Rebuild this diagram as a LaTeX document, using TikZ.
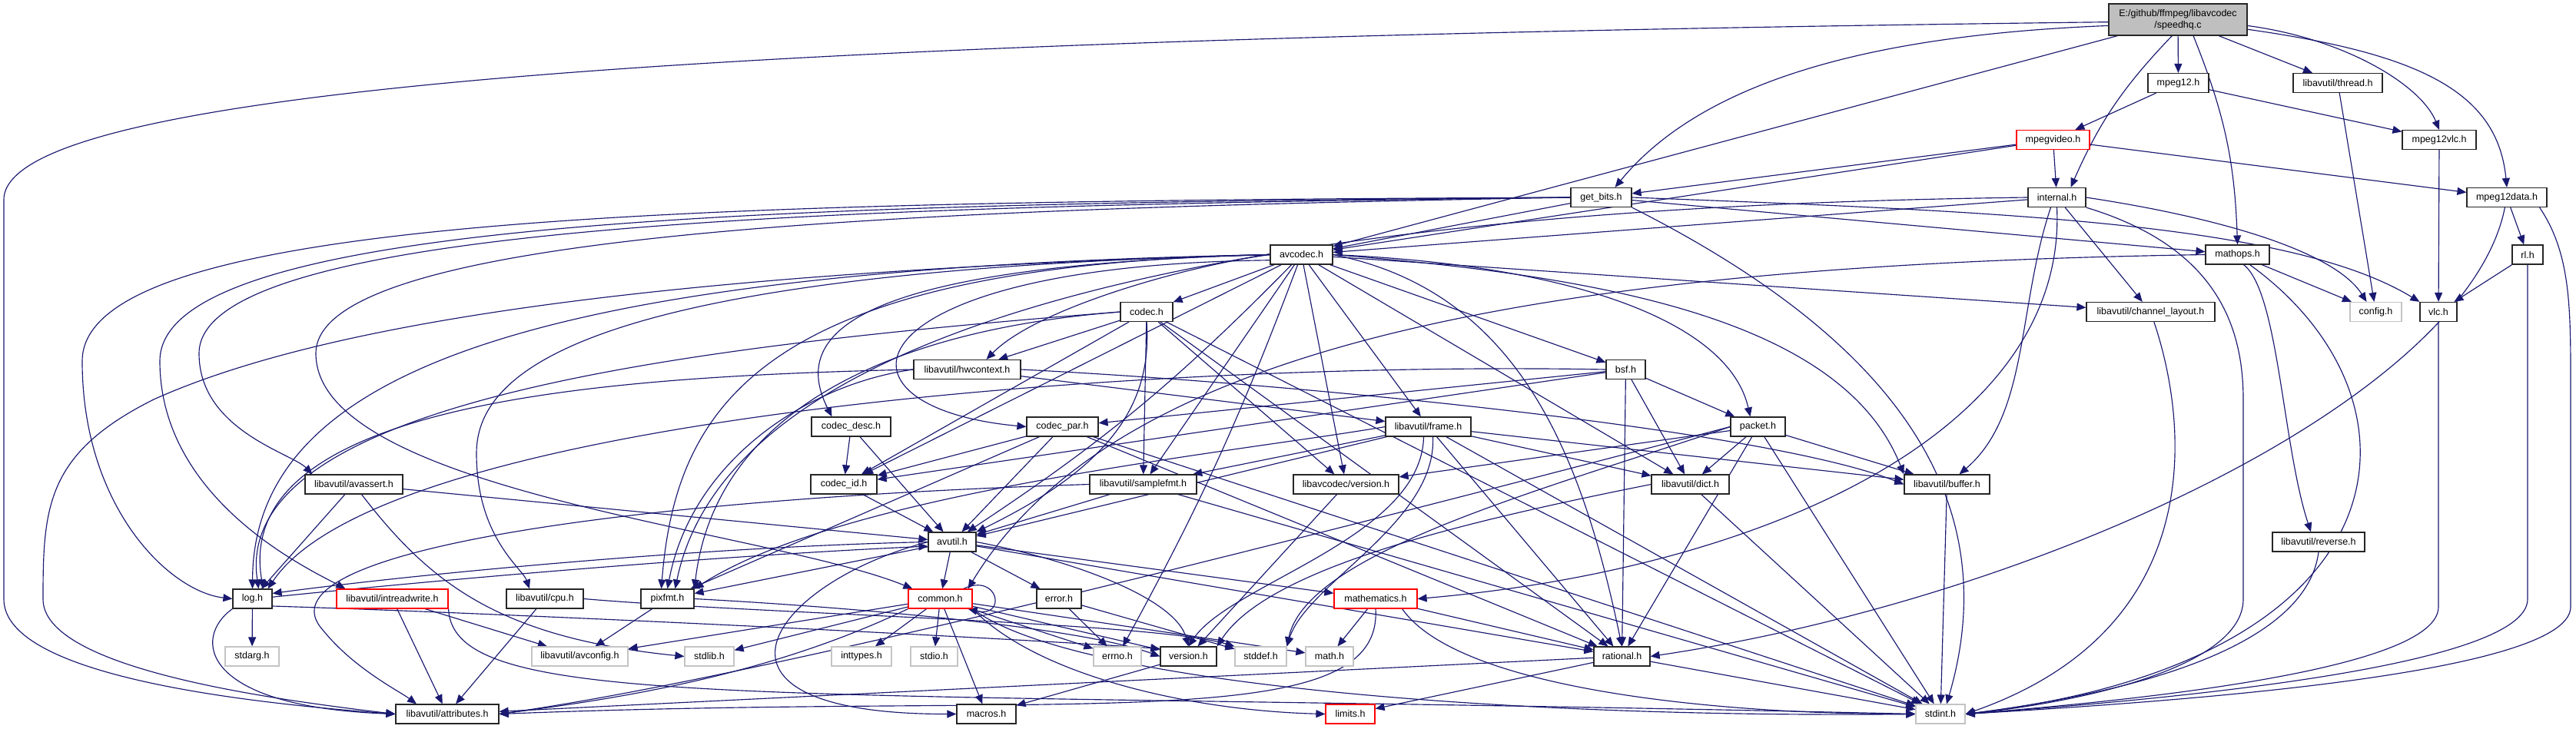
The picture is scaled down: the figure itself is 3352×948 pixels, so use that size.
\documentclass[tikz,border=0pt]{standalone}
\usepackage{fontspec}
\setmainfont{Liberation Sans}
\usetikzlibrary{arrows.meta,calc}
\definecolor{EdgeNavy}{RGB}{25,25,112}
\definecolor{RootGray}{RGB}{191,191,191}
\definecolor{SysGray}{RGB}{196,196,196}
\pgfdeclarelayer{back}
\pgfdeclarelayer{links}
\pgfsetlayers{back,links,main}
\tikzset{
  file/.style={draw=black!85,fill=white,line width=1.2pt,inner sep=0pt,
    minimum height=25pt,font=\fontsize{12.5}{15}\selectfont},
  trunc/.style={file,draw=red},
  sys/.style={file,draw=SysGray},
  rootfile/.style={file,fill=RootGray,minimum height=41pt,align=center},
  dep/.style={-{Triangle[length=12pt,width=10pt]},line width=1.15pt,EdgeNavy}
}

\begin{document}
\begin{tikzpicture}[x=1pt,y=-1pt]
\useasboundingbox (0,0) rectangle (3352,948);
\begin{pgfonlayer}{back}
\fill[white] (0,0) rectangle (3352,948);
\end{pgfonlayer}

% files
\node[rootfile,minimum width=180pt] (root) at (2834,25.5) {E:/github/ffmpeg/libavcodec\\/speedhq.c};
\node[file,minimum width=79pt] (mpeg12) at (2834.5,108) {mpeg12.h};
\node[file,minimum width=116pt] (thread) at (3042,108) {libavutil/thread.h};
\node[trunc,minimum width=95pt] (mpegvideo) at (2671.5,182) {mpegvideo.h};
\node[file,minimum width=96pt] (mpeg12vlc) at (3174,182) {mpeg12vlc.h};
\node[file,minimum width=79pt] (getbits) at (2083.5,257) {get\_bits.h};
\node[file,minimum width=75pt] (internal) at (2676.5,257) {internal.h};
\node[file,minimum width=104pt] (mpeg12data) at (3262,257) {mpeg12data.h};
\node[file,minimum width=81pt] (avcodec) at (1693.5,331.5) {avcodec.h};
\node[file,minimum width=83pt] (mathops) at (2911.5,331.5) {mathops.h};
\node[file,minimum width=40pt] (rl) at (3289,331.5) {rl.h};
\node[file,minimum width=68pt] (codec) at (1492,406) {codec.h};
\node[file,minimum width=167pt] (chlayout) at (2798.5,406) {libavutil/channel\_layout.h};
\node[sys,minimum width=67pt] (config) at (3091.5,406) {config.h};
\node[file,minimum width=48pt] (vlc) at (3173,406) {vlc.h};
\node[file,minimum width=139pt] (hwcontext) at (1258.5,481) {libavutil/hwcontext.h};
\node[file,minimum width=51pt] (bsf) at (2115.5,481) {bsf.h};
\node[file,minimum width=103pt] (codecdesc) at (1107.5,555.5) {codec\_desc.h};
\node[file,minimum width=93pt] (codecpar) at (1382.5,555.5) {codec\_par.h};
\node[file,minimum width=111pt] (frame) at (1858.5,555.5) {libavutil/frame.h};
\node[file,minimum width=71pt] (packet) at (2287.5,555.5) {packet.h};
\node[file,minimum width=127pt] (avassert) at (460.5,630.5) {libavutil/avassert.h};
\node[file,minimum width=86pt] (codecid) at (1098,630.5) {codec\_id.h};
\node[file,minimum width=139pt] (samplefmt) at (1487.5,630.5) {libavutil/samplefmt.h};
\node[file,minimum width=137pt] (lavcversion) at (1751.5,630.5) {libavcodec/version.h};
\node[file,minimum width=101pt] (dict) at (2199.5,630.5) {libavutil/dict.h};
\node[file,minimum width=111pt] (buffer) at (2533.5,630.5) {libavutil/buffer.h};
\node[file,minimum width=62pt] (avutil) at (1239,705.5) {avutil.h};
\node[file,minimum width=120pt] (reverse) at (3017,705.5) {libavutil/reverse.h};
\node[file,minimum width=51pt] (log) at (328.5,779.5) {log.h};
\node[trunc,minimum width=145pt] (intreadwrite) at (510.5,779.5) {libavutil/intreadwrite.h};
\node[file,minimum width=100pt] (cpu) at (709,779.5) {libavutil/cpu.h};
\node[file,minimum width=69pt] (pixfmt) at (868.5,779.5) {pixfmt.h};
\node[trunc,minimum width=83pt] (common) at (1223.5,779.5) {common.h};
\node[file,minimum width=58pt] (error) at (1378,779.5) {error.h};
\node[trunc,minimum width=108pt] (mathematics) at (1790,779.5) {mathematics.h};
\node[sys,minimum width=70pt] (stdarg) at (328,854.5) {stdarg.h};
\node[sys,minimum width=125pt] (avconfig) at (754.5,854.5) {libavutil/avconfig.h};
\node[sys,minimum width=64pt] (stdlib) at (923,854.5) {stdlib.h};
\node[sys,minimum width=78pt] (inttypes) at (1121,854.5) {inttypes.h};
\node[sys,minimum width=61pt] (stdio) at (1215.5,854.5) {stdio.h};
\node[sys,minimum width=62pt] (errno) at (1454,854.5) {errno.h};
\node[file,minimum width=73pt] (version) at (1546.5,854.5) {version.h};
\node[sys,minimum width=67pt] (stddef) at (1640.5,854.5) {stddef.h};
\node[sys,minimum width=62pt] (math) at (1730,854.5) {math.h};
\node[file,minimum width=73pt] (rational) at (2110.5,854.5) {rational.h};
\node[file,minimum width=134pt] (attributes) at (582,929.5) {libavutil/attributes.h};
\node[file,minimum width=77pt] (macros) at (1283.5,929.5) {macros.h};
\node[trunc,minimum width=64pt] (limits) at (1757,929.5) {limits.h};
\node[sys,minimum width=64pt] (stdint) at (2525,929.5) {stdint.h};

% includes
\begin{pgfonlayer}{links}
\foreach \src/\dst in {root/avcodec,root/mpeg12,root/thread,
  mpeg12/mpegvideo,mpeg12/mpeg12vlc,
  mpegvideo/getbits,mpegvideo/avcodec,mpegvideo/internal,mpegvideo/mpeg12data,
  thread/config,mpeg12vlc/vlc,mpeg12data/rl,
  getbits/avcodec,getbits/mathops,internal/avcodec,internal/chlayout,
  mathops/config,rl/vlc,
  avcodec/codec,avcodec/bsf,avcodec/codecid,avcodec/samplefmt,avcodec/lavcversion,
  avcodec/frame,avcodec/dict,avcodec/chlayout,
  codec/hwcontext,codec/codecid,codec/lavcversion,codec/samplefmt,codec/rational,codec/stdint,
  hwcontext/frame,
  bsf/dict,bsf/rational,bsf/codecid,bsf/codecpar,bsf/packet,
  codecdesc/avutil,codecdesc/codecid,
  codecpar/avutil,codecpar/rational,codecpar/pixfmt,codecpar/codecid,codecpar/stdint,
  codecid/avutil,
  frame/stdint,frame/avutil,frame/buffer,frame/dict,frame/rational,frame/samplefmt,
  packet/stdint,packet/buffer,packet/dict,packet/rational,packet/lavcversion,
  samplefmt/stdint,samplefmt/avutil,
  lavcversion/version,dict/stdint,buffer/stdint,
  avutil/common,avutil/error,avutil/rational,avutil/mathematics,avutil/pixfmt,
  log/stdarg,avassert/avutil,avassert/log,
  intreadwrite/avconfig,intreadwrite/attributes,cpu/attributes,pixfmt/avconfig,
  common/errno,common/inttypes,common/stdio,common/stdlib,common/macros,
  common/version,common/avconfig,common/math,
  error/errno,error/stddef,mathematics/math,mathematics/rational,
  rational/stdint,rational/limits,rational/attributes,version/macros}
  \draw[dep] (\src) -- (\dst);

% speedhq.c
\draw[dep] (root.182) .. controls (1000,50) and (5,110) .. (5,260) -- (5,780) .. controls (5,880) and (320,915) .. (attributes.west);
\draw[dep] (root.185) .. controls (2450,45) and (2220,100) .. ($(getbits.north)+(18,0)$);
\draw[dep] (root.250) to[bend right=10] ($(internal.north)+(18,0)$);
\draw[dep] ($(root.south)+(20,0)$) to[bend left=10] (mathops.north);
\draw[dep] (root.355) .. controls (3050,50) and (3150,110) .. (mpeg12vlc.north);
\draw[dep] (root.352) .. controls (3150,70) and (3250,120) .. (mpeg12data.north);

% right margin
\draw[dep] (mpeg12data) .. controls (3210,520) and (2650,780) .. (rational.east);
\draw[dep] ($(mpeg12data.south east)+(-10,0)$) .. controls (3345,330) and (3345,400) .. (3345,500) -- (3345,790) .. controls (3345,880) and (2800,915) .. (stdint.east);
\draw[dep] (rl.south) -- (3289,780) .. controls (3289,870) and (2800,912) .. (stdint.east);
\draw[dep] (vlc.south) -- (3173,790) .. controls (3173,870) and (2800,910) .. (stdint.east);
\draw[dep] (reverse.south) .. controls (3000,850) and (2750,905) .. (stdint.east);
\draw[dep] (chlayout) .. controls (2850,560) and (2870,820) .. (stdint.east);

% get_bits.h
\draw[dep] (getbits.west) .. controls (900,262) and (107,280) .. (107,470) .. controls (107,660) and (220,770) .. (log.west);
\draw[dep] (getbits.west) .. controls (1000,265) and (208,285) .. (208,470) .. controls (208,650) and (400,740) .. ($(intreadwrite.north west)+(12,0)$);
\draw[dep] (getbits.west) .. controls (1100,268) and (259,290) .. (259,460) .. controls (259,560) and (380,590) .. ($(avassert.north west)+(10,0)$);
\draw[dep] (getbits.west) .. controls (1200,272) and (411,300) .. (411,460) .. controls (411,640) and (1000,690) .. ($(common.north west)+(6,0)$);
\draw[dep] (getbits.south east) .. controls (2420,420) and (2620,620) .. ($(stdint.north)+(8,0)$);
\draw[dep] (getbits.east) .. controls (2600,275) and (2980,290) .. (vlc.north west);

% internal.h
\draw[dep] (internal.west) .. controls (1600,270) and (950,420) .. ($(pixfmt.north)+(10,0)$);
\draw[dep] (internal.east) .. controls (2900,285) and (3040,330) .. ($(config.north)+(-12,0)$);
\draw[dep] ($(internal.south)+(-8,0)$) .. controls (2625,400) and (2640,540) .. ($(buffer.north)+(16,0)$);
\draw[dep] (internal.south) .. controls (2690,560) and (2300,740) .. (mathematics.east);
\draw[dep] (internal.south east) .. controls (2880,320) and (2919,420) .. (2919,520) -- (2919,780) .. controls (2919,870) and (2700,915) .. (stdint.east);

% mathops.h
\draw[dep] ($(mathops.south)+(8,0)$) .. controls (2965,380) and (2970,580) .. ($(reverse.north)+(-10,0)$);
\draw[dep] ($(mathops.south)+(16,0)$) .. controls (3170,520) and (3140,860) .. (stdint.east);
\draw[dep] (mathops.west) .. controls (2000,345) and (1450,450) .. ($(common.north east)+(-6,0)$);

% avcodec.h
\draw[dep] (avcodec.west) .. controls (1150,345) and (1020,420) .. ($(codecdesc.north)+(-25,0)$);
\draw[dep] (avcodec.190) .. controls (1100,345) and (1060,530) .. (codecpar.west);
\draw[dep] (avcodec.west) .. controls (1000,345) and (880,520) .. ($(pixfmt.north)+(-8,0)$);
\draw[dep] (avcodec.west) .. controls (700,350) and (330,480) .. (log.north);
\draw[dep] (avcodec.west) .. controls (800,355) and (400,430) .. (200,520) .. controls (60,590) and (56,660) .. (56,780) .. controls (56,870) and (350,910) .. (attributes.west);
\draw[dep] (avcodec.west) .. controls (800,352) and (620,470) .. (620,590) .. controls (620,700) and (680,740) .. ($(cpu.north)+(-20,0)$);
\draw[dep] (avcodec.west) .. controls (1550,345) and (1350,400) .. ($(hwcontext.north)+(25,0)$);
\draw[dep] (avcodec.east) .. controls (2100,360) and (2400,420) .. (buffer.north west);
\draw[dep] (avcodec.east) .. controls (2050,345) and (2250,420) .. ($(packet.north)+(-10,0)$);
\draw[dep] (avcodec.east) .. controls (1980,380) and (2060,600) .. (rational.north);
\draw[dep] (avcodec) to[bend left=6] (avutil);
\draw[dep] (avcodec) to[bend left=4] (errno);

% codec.h, hwcontext.h, bsf.h
\draw[dep] (codec.south) .. controls (1500,530) and (1440,610) .. (avutil.north east);
\draw[dep] (codec.west) .. controls (1150,430) and (930,540) .. (pixfmt.north east);
\draw[dep] (codec.west) .. controls (900,450) and (300,520) .. ($(log.north)+(8,0)$);
\draw[dep] (hwcontext.west) .. controls (800,490) and (300,520) .. ($(log.north)+(14,0)$);
\draw[dep] (bsf.west) .. controls (1500,470) and (500,540) .. ($(log.north east)+(-6,0)$);
\draw[dep] (hwcontext.east) .. controls (1700,500) and (2300,560) .. (buffer.west);
\draw[dep] (hwcontext.west) .. controls (1050,500) and (900,600) .. (pixfmt.north);

% frame.h, packet.h, dict.h, samplefmt.h
\draw[dep] (frame.west) .. controls (1600,590) and (1100,640) .. (pixfmt.north east);
\draw[dep] ($(frame.south)+(6,0)$) .. controls (1870,680) and (1700,760) .. (stddef.north east);
\draw[dep] ($(frame.south)+(-6,0)$) .. controls (1850,700) and (1600,760) .. (version.north);
\draw[dep] (packet.west) .. controls (1700,700) and (1000,880) .. (attributes.east);
\draw[dep] (packet.west) .. controls (2000,640) and (1700,720) .. (stddef.north east);
\draw[dep] (dict.west) .. controls (1900,680) and (1650,740) .. (version.north east);
\draw[dep] (samplefmt.west) .. controls (800,650) and (330,720) .. (420,820) .. controls (460,870) and (520,900) .. ($(attributes.north)+(-40,0)$);

% avutil.h, log.h
\draw[dep] (avutil.east) .. controls (1400,730) and (1530,780) .. (version.north);
\draw[dep] (avutil.west) .. controls (1000,760) and (880,930) .. (macros.west);
\draw[dep] (avutil.west) .. controls (900,712) and (520,750) .. (log.15);
\draw[dep] (log.5) .. controls (520,760) and (900,725) .. (avutil.190);
\draw[dep] (log.south west) .. controls (250,830) and (260,920) .. (attributes.west);
\draw[dep] (log.340) .. controls (700,800) and (1300,830) .. ($(version.north west)+(0,3)$);
\draw[dep] ($(avassert.south)+(10,0)$) .. controls (560,760) and (650,830) .. (stdlib.west);
\draw[dep] (intreadwrite.south east) .. controls (590,930) and (1000,895) .. (stdint.west);
\draw[dep] (cpu.east) .. controls (1000,800) and (1500,810) .. (stddef.north west);
\draw[dep] (pixfmt.east) .. controls (1100,790) and (1400,815) .. (version.west);

% common.h, mathematics.h
\draw[dep] (common.south west) .. controls (1000,880) and (800,910) .. (attributes.east);
\draw[dep] (common.south east) .. controls (1350,880) and (1550,925) .. (limits.west);
\draw[dep] (common.south east) .. controls (1400,895) and (2000,935) .. (stdint.west);
\draw[dep] ($(common.north east)+(-12,0)$) .. controls (1300,745) and (1310,805) .. ($(common.south east)+(-6,0)$);
\draw[dep] (mathematics.south) .. controls (1800,960) and (1400,900) .. (attributes.east);
\draw[dep] ($(mathematics.south east)+(-20,0)$) .. controls (1900,900) and (2250,930) .. (stdint.west);
\end{pgfonlayer}
\end{tikzpicture}
\end{document}
